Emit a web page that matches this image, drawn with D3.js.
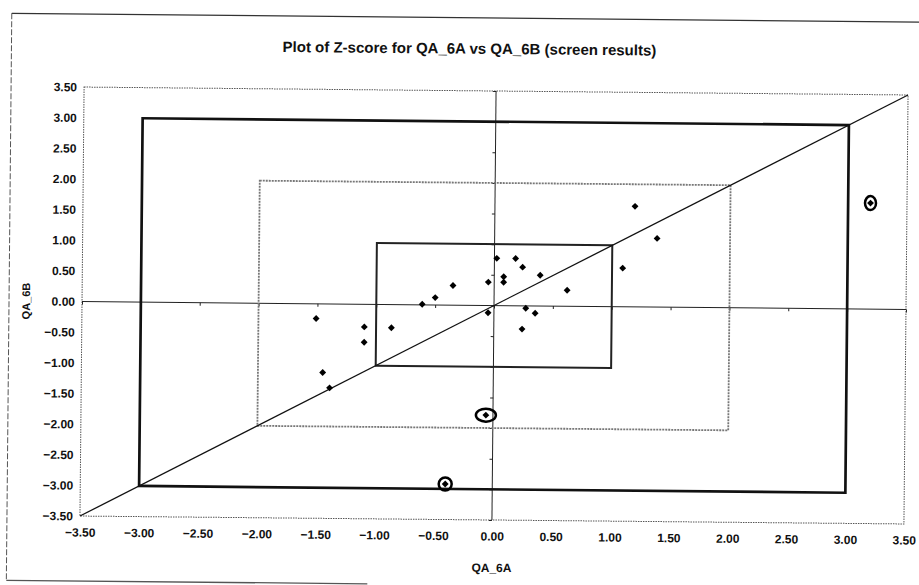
<!DOCTYPE html>
<html>
<head>
<meta charset="utf-8">
<script src="https://cdn.jsdelivr.net/npm/d3@7/dist/d3.min.js"></script>
<style>
  html, body { margin: 0; padding: 0; background: #fff; }
  svg { display: block; }
  text { font-family: "Liberation Sans", Arial, sans-serif; fill: #111; }
</style>
</head>
<body>
<svg id="chart" width="919" height="585"></svg>
<script>
// ---- data ----
const title = "Plot of Z-score for QA_6A vs QA_6B (screen results)";
const xTitle = "QA_6A";
const yTitle = "QA_6B";
const tickValues = [-3.5, -3, -2.5, -2, -1.5, -1, -0.5, 0, 0.5, 1, 1.5, 2, 2.5, 3, 3.5];
const xValues = [-1.51, -1.10, -1.10, -0.87, -1.45, -1.39, -0.61, -0.50, -0.35, -0.05, 0.02, 0.08, 0.08, 0.18, 0.24, 0.39, 0.62, -0.05, 0.27, 0.35, 0.24, 1.09, 1.19, 1.38, -0.06, -0.40, 3.19];
const yValues = [-0.24, -0.37, -0.62, -0.38, -1.12, -1.37, 0.01, 0.12, 0.32, 0.38, 0.77, 0.47, 0.38, 0.77, 0.63, 0.50, 0.26, -0.12, -0.04, -0.12, -0.38, 0.63, 1.64, 1.12, -1.79, -2.92, 1.73];
// hand-drawn circles on the printout (indices into the point arrays)
const circledPoints = [24, 25, 26];
const boxLimits = [3, 2, 1];
const diagonal = [-3.5, 3.5];

// ---- layout ----
const svg = d3.select("#chart");
const pLeft = 82, pRight = 906, pTop = 91, pBottom = 520;
const x = d3.scaleLinear().domain([-3.5, 3.5]).range([pLeft, pRight]);
const y = d3.scaleLinear().domain([-3.5, 3.5]).range([pBottom, pTop]);
const fmt = d3.format(".2f");
const font = "'Liberation Sans', Arial, sans-serif";

// the scanned page is slightly rotated
const g = svg.append("g").attr("transform", `rotate(0.55,${x(0)},${y(0)})`);

// chart-area frame (scanned printout border)
g.append("line").attr("x1", 9).attr("y1", 18).attr("x2", 930).attr("y2", 18)
  .attr("stroke", "#333").attr("stroke-width", 1.3);
g.append("line").attr("x1", 9).attr("y1", 18).attr("x2", 9).attr("y2", 585)
  .attr("stroke", "#555").attr("stroke-width", 1).attr("stroke-dasharray", "6,2");
g.append("line").attr("x1", 9).attr("y1", 585).attr("x2", 370).attr("y2", 585)
  .attr("stroke", "#555").attr("stroke-width", 1.3);

// title
g.append("text").attr("x", 467).attr("y", 54).attr("text-anchor", "middle")
  .attr("font-size", 15).attr("font-weight", "bold").text(title);

// plot area border (dotted)
g.append("rect").attr("x", pLeft).attr("y", pTop)
  .attr("width", pRight - pLeft).attr("height", pBottom - pTop)
  .attr("fill", "none").attr("stroke", "#555").attr("stroke-width", 1)
  .attr("stroke-dasharray", "1.5,1");

// tick labels (low position, at plot edges)
const yAxis = d3.axisLeft(y).tickValues(tickValues).tickFormat(fmt).tickSize(0).tickPadding(7);
const gy = g.append("g").attr("transform", `translate(${pLeft},0)`).call(yAxis);
gy.select(".domain").remove();
gy.selectAll("text").attr("font-size", 12).attr("font-weight", "bold")
  .style("font-family", font).attr("fill", "#111");

const xAxis = d3.axisBottom(x).tickValues(tickValues).tickFormat(fmt).tickSize(0).tickPadding(12);
const gx = g.append("g").attr("transform", `translate(0,${pBottom})`).call(xAxis);
gx.select(".domain").remove();
gx.selectAll("text").attr("font-size", 12).attr("font-weight", "bold")
  .style("font-family", font).attr("fill", "#111");

// axis titles
g.append("text").attr("x", x(0)).attr("y", 572).attr("text-anchor", "middle")
  .attr("font-size", 12).attr("font-weight", "bold").text(xTitle);
g.append("text").attr("transform", `translate(30,${y(0)}) rotate(-90)`)
  .attr("text-anchor", "middle").attr("font-size", 11).attr("font-weight", "bold").text(yTitle);

// zero axes crossing at origin with small ticks
const xZero = d3.axisBottom(x).tickValues(tickValues).tickSize(3).tickFormat("");
const gxz = g.append("g").attr("transform", `translate(0,${y(0)})`).call(xZero);
gxz.select(".domain").attr("stroke", "#222").attr("stroke-width", 1).attr("d", `M${pLeft},0H${pRight}`);
gxz.selectAll(".tick line").attr("stroke", "#222");
const yZero = d3.axisLeft(y).tickValues(tickValues).tickSize(3).tickFormat("");
const gyz = g.append("g").attr("transform", `translate(${x(0)},0)`).call(yZero);
gyz.select(".domain").attr("stroke", "#222").attr("stroke-width", 1).attr("d", `M0,${pTop}V${pBottom}`);
gyz.selectAll(".tick line").attr("stroke", "#222");

// limit boxes
const boxStyle = {
  3: { stroke: "#111", width: 2.7, dash: null },
  2: { stroke: "#777", width: 1.8, dash: "2,1" },
  1: { stroke: "#222", width: 2, dash: null }
};
boxLimits.forEach(k => {
  const s = boxStyle[k];
  g.append("rect")
    .attr("x", x(-k)).attr("y", y(k))
    .attr("width", x(k) - x(-k)).attr("height", y(-k) - y(k))
    .attr("fill", "none").attr("stroke", s.stroke).attr("stroke-width", s.width)
    .attr("stroke-dasharray", s.dash);
});

// diagonal y = x
g.append("line")
  .attr("x1", x(diagonal[0])).attr("y1", y(diagonal[0]))
  .attr("x2", x(diagonal[1])).attr("y2", y(diagonal[1]))
  .attr("stroke", "#111").attr("stroke-width", 1.3);

// points (diamonds)
const pts = xValues.map((v, i) => ({ x: v, y: yValues[i], i }));
const diamond = d3.symbol().type(d3.symbolDiamond2).size(30);
g.append("g").selectAll("path").data(pts).join("path")
  .attr("d", diamond)
  .attr("transform", d => `translate(${x(d.x)},${y(d.y)})`)
  .attr("fill", "#000");

// hand-drawn circles
const circleShape = { 24: [10, 6.5], 25: [6.5, 6.5], 26: [5.5, 7] };
g.append("g").selectAll("ellipse").data(circledPoints.map(i => pts[i])).join("ellipse")
  .attr("cx", d => x(d.x)).attr("cy", d => y(d.y))
  .attr("rx", d => circleShape[d.i][0]).attr("ry", d => circleShape[d.i][1])
  .attr("fill", "none").attr("stroke", "#000").attr("stroke-width", 2.5);
</script>
</body>
</html>
